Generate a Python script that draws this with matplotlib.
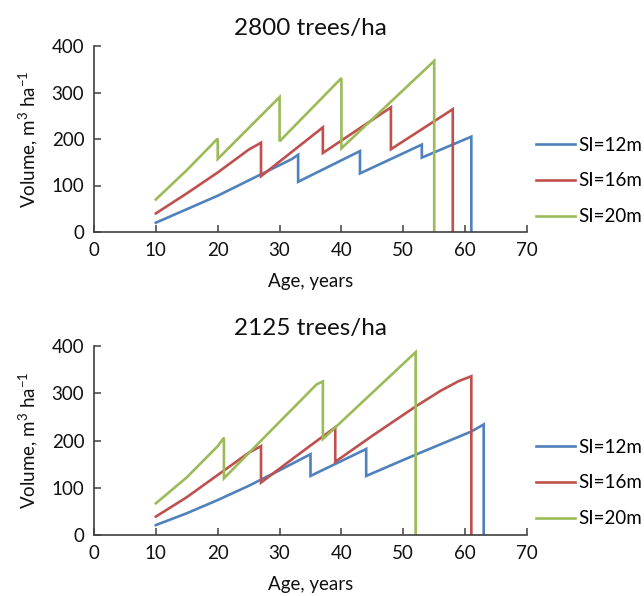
import matplotlib
matplotlib.use("Agg")
import matplotlib.pyplot as plt

plt.rcParams['font.family'] = ['Lato', 'DejaVu Sans']
plt.rcParams['mathtext.fontset'] = 'custom'
plt.rcParams['mathtext.rm'] = 'Lato'
plt.rcParams['mathtext.it'] = 'Lato'
plt.rcParams['mathtext.bf'] = 'Lato'

# ---- Data: 2800 trees/ha ----
top_si12_age = [10, 20, 32, 33, 33, 43, 43, 53, 53, 61, 61]
top_si12_vol = [20, 78, 157, 166, 108, 174, 126, 188, 160, 205, 0]
top_si16_age = [10, 15, 20, 25, 27, 27, 37, 37, 48, 48, 58, 58]
top_si16_vol = [40, 83, 128, 177, 192, 120, 225, 170, 268, 178, 264, 0]
top_si20_age = [10, 15, 20, 20, 30, 30, 40, 40, 55, 55]
top_si20_vol = [70, 133, 201, 157, 290, 195, 331, 180, 368, 0]

# ---- Data: 2125 trees/ha ----
bot_si12_age = [10, 15, 20, 25, 30, 35, 35, 44, 44, 52, 61, 63, 63]
bot_si12_vol = [21, 46, 74, 104, 137, 171, 125, 182, 125, 170, 219, 234, 0]
bot_si16_age = [10, 15, 20, 25, 27, 27, 33, 39, 39, 45, 52, 56, 59, 61, 61]
bot_si16_vol = [39, 80, 127, 174, 188, 111, 170, 228, 155, 210, 272, 305, 326, 336, 0]
bot_si20_age = [10, 15, 20, 21, 21, 36, 37, 37, 52, 52]
bot_si20_vol = [67, 122, 188, 206, 120, 319, 325, 203, 387, 0]

titles = ["2800 trees/ha", "2125 trees/ha"]
labels = ["SI=12m", "SI=16m", "SI=20m"]
colors = ["#4F81BD", "#C0504D", "#9BBB59"]
xticks = [0, 10, 20, 30, 40, 50, 60, 70]
yticks = [0, 100, 200, 300, 400]

panels = [
    [(top_si12_age, top_si12_vol), (top_si16_age, top_si16_vol), (top_si20_age, top_si20_vol)],
    [(bot_si12_age, bot_si12_vol), (bot_si16_age, bot_si16_vol), (bot_si20_age, bot_si20_vol)],
]

W, H = 644, 596
fig = plt.figure(figsize=(W / 100, H / 100), dpi=100)
# axes boxes in pixels: left, top, right, bottom ; legend centre y in pixels
boxes = [(94, 46, 527, 232, 181), (94, 346, 527, 535, 483)]
spine_col = "#404040"
fs = 13.5

for box, series, title in zip(boxes, panels, titles):
    l, t, r, b, legc = box
    ax = fig.add_axes([l / W, 1 - b / H, (r - l) / W, (b - t) / H])
    for (ages, vols), lab, c in zip(series, labels, colors):
        ax.plot(ages, vols, color=c, lw=1.9, label=lab, solid_joinstyle='miter')
    ax.set_xlim(0, 70)
    ax.set_ylim(0, 400)
    ax.set_xticks(xticks)
    ax.set_yticks(yticks)
    for s in ['top', 'right']:
        ax.spines[s].set_visible(False)
    for s in ['left', 'bottom']:
        ax.spines[s].set_color(spine_col)
        ax.spines[s].set_linewidth(1.2)
    ax.tick_params(direction='in', length=5, width=1.1, color=spine_col,
                   labelsize=fs, pad=7, labelcolor='#111111')
    ax.set_xlabel("Age, years", fontsize=fs, labelpad=10, color='#111111')
    ax.set_ylabel("Volume, m$^3$ ha$^{-1}$", fontsize=fs, labelpad=8, color='#111111')
    ax.set_title(title, fontsize=17.5, pad=8, color='#111111')
    ax.legend(loc='center left', bbox_to_anchor=(1.02, (b - legc) / (b - t)),
              frameon=False, fontsize=fs, handlelength=2.1, handletextpad=0.15,
              labelspacing=1.0, borderpad=0, borderaxespad=0)

fig.savefig("out.png", dpi=100)
